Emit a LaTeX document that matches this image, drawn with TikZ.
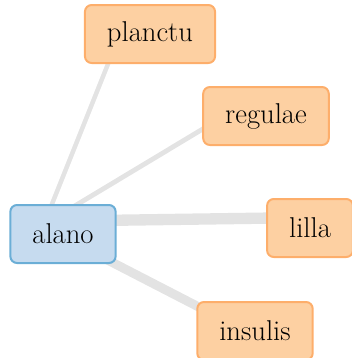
\documentclass[tikz,border=0pt]{standalone}
\usetikzlibrary{calc,backgrounds}

\definecolor{leafFill}{HTML}{FDD0A2}
\definecolor{leafLine}{HTML}{FDAE6B}
\definecolor{rootFill}{HTML}{C6DBEF}
\definecolor{rootLine}{HTML}{6BAED6}
\definecolor{edgeGrey}{HTML}{E3E3E3}

\tikzset{every picture/.style={line width=0.75pt}}
\tikzset{
  word/.style={rounded corners=5pt, line width=1.5pt, inner xsep=16.5pt,
    minimum height=43.5pt, font=\fontsize{21.5}{25}\selectfont},
  leafbox/.style={word, draw=leafLine, fill=leafFill},
  rootbox/.style={word, draw=rootLine, fill=rootFill},
  link/.style={draw=edgeGrey, line cap=butt}
}

\begin{document}
\begin{tikzpicture}[x=0.75pt,y=0.75pt,yscale=-1,xscale=1]
%set diagram left start at 0, and has height of 358
\useasboundingbox (0,0) rectangle (352,358);

%Shape: Rounded Rect [id:root]
\node [rootbox] (alano) at (63,234) {alano};
%Shape: Rounded Rect [id:leaf1]
\node [leafbox] (planctu) at (150,34) {planctu};
%Shape: Rounded Rect [id:leaf2]
\node [leafbox] (regulae) at (266,116) {regulae};
%Shape: Rounded Rect [id:leaf3]
\node [leafbox] (lilla) at (310,228) {lilla};
%Shape: Rounded Rect [id:leaf4]
\node [leafbox] (insulis) at (255,331) {insulis};

\begin{scope}[on background layer]
%Straight Lines [id:e1]
\draw [link, line width=3.4pt] ($(alano)+(-23,0)$) -- ($(planctu)+(-30,0)$) ;
%Straight Lines [id:e2]
\draw [link, line width=3.6pt] ($(alano)+(0,-21)$) -- ($(regulae)+(0,-25)$) ;
%Straight Lines [id:e3]
\draw [link, line width=8.5pt] ($(alano)+(0,-13)$) -- ($(lilla)+(0,-10.5)$) ;
%Straight Lines [id:e4]
\draw [link, line width=6.8pt] ($(alano)+(0,3)$) -- ($(insulis)+(0,5)$) ;
\end{scope}

\end{tikzpicture}
\end{document}
